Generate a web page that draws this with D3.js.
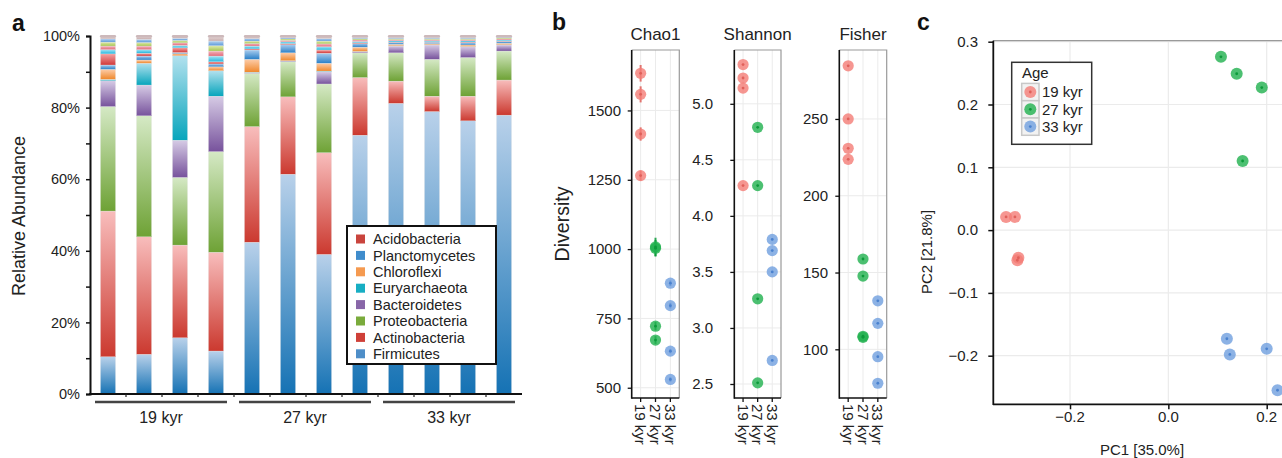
<!DOCTYPE html>
<html lang="en">
<head>
<meta charset="UTF-8">
<title>Microbial community by age</title>
<style>
  body { margin: 0; background: #fff; }
  svg { display: block; font-family: 'Liberation Sans', Arial, sans-serif; }
</style>
</head>
<body>
<svg id="chart" width="1282" height="458"></svg>
<script src="https://d3js.org/d3.v7.min.js"></script>
<script>
// ---------- data: panel a (relative abundance, % per sample) ----------
const samples = ["S1","S2","S3","S4","S5","S6","S7","S8","S9","S10","S11","S12"];
const sampleAge = ["19 kyr","19 kyr","19 kyr","19 kyr","27 kyr","27 kyr","27 kyr","27 kyr","33 kyr","33 kyr","33 kyr","33 kyr"];
const ageGroups = ["19 kyr","27 kyr","33 kyr"];

const firmicutes      = [10.4, 11.1, 15.7, 12.0, 42.4, 61.4, 39.0, 72.3, 81.2, 78.9, 76.3, 77.9];
const actinobacteria  = [40.7, 32.8, 25.9, 27.6, 32.3, 21.6, 28.4, 16.1,  6.2,  4.3,  6.9,  9.8];
const proteobacteria  = [29.2, 33.8, 18.9, 28.1, 14.9,  9.8, 19.2,  6.9,  7.9, 10.3, 10.8,  8.1];
const bacteroidetes   = [ 7.2,  8.6, 10.4, 15.5,  0.2,  0.2,  3.4,  0.3,  1.9,  4.0,  3.0,  1.7];
const euryarchaeota   = [ 0.4,  6.1, 23.6,  7.1,  0.1,  0.1,  0.2,  0.1,  0.1,  0.1,  0.1,  0.1];
const chloroflexi     = [ 2.8,  0.9,  0.6,  1.1,  3.6,  2.2,  2.2,  1.2,  0.4,  0.3,  0.4,  0.4];
const planctomycetes  = [ 1.2,  1.1,  0.3,  0.8,  2.6,  2.3,  2.8,  1.0,  0.5,  0.4,  0.6,  0.5];
const acidobacteria   = [ 3.1,  0.8,  1.3,  0.6,  0.3,  0.3,  0.9,  0.2,  0.1,  0.1,  0.2,  0.1];
// minor phyla (not in legend)
const verrucomicrobia = [ 1.2,  1.0,  0.7,  1.6,  0.8,  0.5,  0.9,  0.4,  0.4,  0.3,  0.4,  0.3];
const gemmatimonadetes= [ 1.0,  1.0,  0.7,  1.4,  0.7,  0.4,  0.8,  0.4,  0.3,  0.3,  0.3,  0.3];
const nitrospirae     = [ 1.1,  1.0,  0.7,  1.5,  0.7,  0.4,  0.8,  0.4,  0.3,  0.3,  0.3,  0.3];
const cyanobacteria   = [ 0.9,  0.9,  0.6,  1.3,  0.7,  0.4,  0.7,  0.3,  0.3,  0.3,  0.3,  0.2];
const otherPhyla      = [ 0.8,  0.9,  0.6,  1.4,  0.7,  0.4,  0.7,  0.4,  0.4,  0.4,  0.4,  0.3];

const phylaNames = ["Firmicutes","Actinobacteria","Proteobacteria","Bacteroidetes","Euryarchaeota",
  "Chloroflexi","Planctomycetes","Acidobacteria","Verrucomicrobia","Gemmatimonadetes","Nitrospirae",
  "Cyanobacteria","Other"];
const phylaValues = [firmicutes, actinobacteria, proteobacteria, bacteroidetes, euryarchaeota,
  chloroflexi, planctomycetes, acidobacteria, verrucomicrobia, gemmatimonadetes, nitrospirae,
  cyanobacteria, otherPhyla];
const legendNames = ["Acidobacteria","Planctomycetes","Chloroflexi","Euryarchaeota",
  "Bacteroidetes","Proteobacteria","Actinobacteria","Firmicutes"];
const pctTicks = [0, 20, 40, 60, 80, 100];

// ---------- data: panel b (alpha diversity) ----------
const divAge   = sampleAge;
const chao1    = [1634, 1558, 1415, 1265, 1008, 1003, 722, 672, 877, 796, 632, 530];
const chao1Se  = [  30,   29,   24,   18,   33,   30,  15,  14,  10,  10,   8,   8];
const shannon  = [5.35, 5.23, 5.14, 4.27, 4.79, 4.27, 3.26, 2.51, 3.79, 3.69, 3.50, 2.71];
const fisher   = [284.6, 250.0, 230.9, 223.7, 158.8, 147.7, 108.5, 107.8, 131.6, 116.9, 95.2, 77.9];
const chao1Ticks   = [500, 750, 1000, 1250, 1500];
const shannonTicks = [2.5, 3.0, 3.5, 4.0, 4.5, 5.0];
const fisherTicks  = [100, 150, 200, 250];

// ---------- data: panel c (PCoA) ----------
const pc1 = [-0.330, -0.312, -0.305, -0.307, 0.107, 0.139, 0.190, 0.151, 0.119, 0.125, 0.200, 0.222];
const pc2 = [ 0.021,  0.021, -0.044, -0.048, 0.276, 0.249, 0.227, 0.110, -0.173, -0.198, -0.189, -0.255];
const pc1Ticks = [-0.2, 0.0, 0.2];
const pc2Ticks = [-0.2, -0.1, 0.0, 0.1, 0.2, 0.3];

// ---------- styles ----------
const gradStops = {
  Firmicutes: ["#b9d1ea", "#1572b4"],
  Actinobacteria: ["#f8bdbc", "#cb392f"],
  Proteobacteria: ["#d5e9c5", "#6ea235"],
  Bacteroidetes: ["#d6cbe5", "#77529c"],
  Euryarchaeota: ["#b2e1ee", "#07a5bc"],
  Chloroflexi: ["#fdcdaa", "#ef882c"],
  Planctomycetes: ["#aacdee", "#2a80c8"],
  Acidobacteria: ["#f5a3a2", "#d0393a"],
  Verrucomicrobia: ["#a6e4f4", "#22b6de"],
  Gemmatimonadetes: ["#f5b4bb", "#e06a7a"],
  Nitrospirae: ["#dfeaaf", "#a7c64f"],
  Cyanobacteria: ["#b6d3f1", "#5a98d8"],
  Other: ["#eadcdc", "#c7adad"]
};
const legendColor = {
  Acidobacteria: "#c9443d", Planctomycetes: "#3f8ccc", Chloroflexi: "#f59a50",
  Euryarchaeota: "#17aec3", Bacteroidetes: "#8866a8", Proteobacteria: "#7aab3c",
  Actinobacteria: "#cf4038", Firmicutes: "#4e8ec8"
};
const ageFill = { "19 kyr": "#f47c75", "27 kyr": "#1fb04e", "33 kyr": "#6f9fde" };
const ageDot  = { "19 kyr": "#e0605a", "27 kyr": "#0c9a3a", "33 kyr": "#4a82cf" };

const svg = d3.select("#chart");
const defs = svg.append("defs");
phylaNames.forEach((n, i) => {
  const g = defs.append("linearGradient").attr("id", "grad" + i)
    .attr("x1", 0).attr("y1", 0).attr("x2", 0).attr("y2", 1);
  g.append("stop").attr("offset", "0%").attr("stop-color", gradStops[n][0]);
  g.append("stop").attr("offset", "100%").attr("stop-color", gradStops[n][1]);
});

function panelLetter(txt, x, y) {
  svg.append("text").attr("x", x).attr("y", y).attr("font-size", 23)
    .attr("font-weight", "bold").attr("fill", "#111").text(txt);
}

// ================= Panel a =================
const x = d3.scaleBand().domain(samples).range([90, 522]).paddingInner(0.58).paddingOuter(0.29);
const y = d3.scaleLinear().domain([0, 100]).range([394, 36]);

const table = samples.map((s, i) => {
  const row = { sample: s };
  phylaNames.forEach((n, k) => row[n] = phylaValues[k][i]);
  return row;
});
const series = d3.stack().keys(phylaNames)(table);

const gA = svg.append("g");
gA.selectAll("g.layer").data(series).join("g").attr("class", "layer")
  .attr("fill", (d, i) => `url(#grad${i})`)
  .selectAll("rect").data(d => d).join("rect")
  .attr("x", d => x(d.data.sample))
  .attr("y", d => y(Math.min(100, d[1])))
  .attr("width", x.bandwidth())
  .attr("height", d => Math.max(0, y(d[0]) - y(Math.min(100, d[1]))))
  .attr("stroke", "#e6e6e6").attr("stroke-width", 0.3);

// grey cap on top of each bar
gA.selectAll("rect.cap").data(samples).join("rect").attr("class", "cap")
  .attr("x", d => x(d) - 0.5).attr("y", y(100) - 1).attr("width", x.bandwidth() + 1)
  .attr("height", 2.5).attr("rx", 1.2).attr("fill", "#cdb9bb");

// y axis
const yAxisA = d3.axisLeft(y).tickValues(d3.range(0, 101, 10)).tickSize(4).tickFormat("");
gA.append("g").attr("transform", "translate(90,0)").call(yAxisA)
  .call(g => g.select(".domain").attr("stroke-width", 2).attr("stroke", "#111"))
  .call(g => g.selectAll(".tick line").attr("stroke-width", 1.5).attr("stroke", "#111"));
gA.selectAll("text.ytick").data(pctTicks).join("text").attr("class", "ytick")
  .attr("x", 80).attr("y", d => y(d)).attr("dy", "0.36em").attr("text-anchor", "end")
  .attr("font-size", 14.5).attr("fill", "#222").text(d => d + "%");
gA.append("text").attr("transform", "translate(25,216) rotate(-90)")
  .attr("text-anchor", "middle").attr("font-size", 18).attr("fill", "#222").text("Relative Abundance");

// x axis line with small ticks at band boundaries
gA.append("line").attr("x1", 89).attr("x2", 522).attr("y1", 394).attr("y2", 394)
  .attr("stroke", "#111").attr("stroke-width", 2.2);
const step = x.step();
gA.selectAll("line.bnd").data(samples.slice(1)).join("line").attr("class", "bnd")
  .attr("x1", d => x(d) - step * 0.29).attr("x2", d => x(d) - step * 0.29)
  .attr("y1", 394).attr("y2", 397).attr("stroke", "#222").attr("stroke-width", 1.2);

// age group brackets
ageGroups.forEach(a => {
  const members = samples.filter((s, i) => sampleAge[i] === a);
  const x0 = x(members[0]) - step * 0.29;
  const x1 = x(members[members.length - 1]) + x.bandwidth() + step * 0.29;
  gA.append("line").attr("x1", x0 + 5).attr("x2", x1 - 7).attr("y1", 402).attr("y2", 402)
    .attr("stroke", "#444").attr("stroke-width", 2.5);
  gA.append("text").attr("x", (x0 + x1) / 2 - 1).attr("y", 423).attr("text-anchor", "middle")
    .attr("font-size", 16).attr("fill", "#222").text(a);
});

// legend
const lg = gA.append("g");
lg.append("rect").attr("x", 347).attr("y", 226).attr("width", 149).attr("height", 138)
  .attr("fill", "#fff").attr("stroke", "#111").attr("stroke-width", 2);
legendNames.forEach((n, i) => {
  const yy = 239 + i * 16.4;
  lg.append("rect").attr("x", 356).attr("y", yy - 4.5).attr("width", 9).attr("height", 9)
    .attr("fill", legendColor[n]);
  lg.append("text").attr("x", 373).attr("y", yy).attr("dy", "0.36em")
    .attr("font-size", 14.5).attr("fill", "#222").text(n);
});
panelLetter("a", 12, 31);

// ================= Panel b =================
const catX = ageGroups;
function facet(cfg) {
  const g = svg.append("g");
  const xs = d3.scalePoint().domain(catX).range([cfg.left, cfg.right]).padding(0.6);
  const ys = d3.scaleLinear().domain(cfg.domain).range([398, 50]);
  // grid
  g.selectAll("line.gh").data(cfg.ticks).join("line").attr("class", "gh")
    .attr("x1", cfg.left).attr("x2", cfg.right).attr("y1", d => ys(d)).attr("y2", d => ys(d))
    .attr("stroke", "#ebebeb").attr("stroke-width", 1);
  g.selectAll("line.gv").data(catX).join("line").attr("class", "gv")
    .attr("x1", d => xs(d)).attr("x2", d => xs(d)).attr("y1", 50).attr("y2", 398)
    .attr("stroke", "#ebebeb").attr("stroke-width", 1);
  // grey frame top/right
  g.append("path").attr("d", `M${cfg.left},50H${cfg.right}V398`).attr("fill", "none")
    .attr("stroke", "#9a9a9a").attr("stroke-width", 1.2);
  // axes
  g.append("g").attr("transform", `translate(${cfg.left},0)`)
    .call(d3.axisLeft(ys).tickValues(cfg.ticks).tickSize(4).tickFormat(""))
    .call(a => a.select(".domain").remove())
    .call(a => a.selectAll(".tick line").attr("stroke", "#111").attr("stroke-width", 1.3));
  g.append("line").attr("x1", cfg.left).attr("x2", cfg.left).attr("y1", 50).attr("y2", 398.8)
    .attr("stroke", "#111").attr("stroke-width", 1.6);
  g.append("line").attr("x1", cfg.left).attr("x2", cfg.right).attr("y1", 398).attr("y2", 398)
    .attr("stroke", "#111").attr("stroke-width", 1.6);
  g.selectAll("line.xt").data(catX).join("line").attr("class", "xt")
    .attr("x1", d => xs(d)).attr("x2", d => xs(d)).attr("y1", 398).attr("y2", 402)
    .attr("stroke", "#111").attr("stroke-width", 1.3);
  g.selectAll("text.yl").data(cfg.ticks).join("text").attr("class", "yl")
    .attr("x", cfg.labelEnd).attr("y", d => ys(d)).attr("dy", "0.36em").attr("text-anchor", "end")
    .attr("font-size", 15).attr("fill", "#222").text(cfg.fmt);
  g.selectAll("text.xl").data(catX).join("text").attr("class", "xl")
    .attr("transform", d => `translate(${xs(d)},404) rotate(90)`)
    .attr("dy", "0.36em").attr("font-size", 15).attr("fill", "#222").text(d => d);
  g.append("text").attr("x", (cfg.left + cfg.right) / 2).attr("y", 40).attr("text-anchor", "middle")
    .attr("font-size", 17).attr("fill", "#222").text(cfg.title);
  // error bars
  if (cfg.se) {
    g.selectAll("line.err").data(cfg.values).join("line").attr("class", "err")
      .attr("x1", (d, i) => xs(divAge[i])).attr("x2", (d, i) => xs(divAge[i]))
      .attr("y1", (d, i) => ys(d - cfg.se[i])).attr("y2", (d, i) => ys(d + cfg.se[i]))
      .attr("stroke", (d, i) => ageDot[divAge[i]]).attr("stroke-width", 2).attr("opacity", 0.85);
  }
  g.selectAll("circle.pt").data(cfg.values).join("circle").attr("class", "pt")
    .attr("cx", (d, i) => xs(divAge[i])).attr("cy", d => ys(d)).attr("r", 5.6)
    .attr("fill", (d, i) => ageFill[divAge[i]]).attr("opacity", 0.8);
  g.selectAll("circle.dot").data(cfg.values).join("circle").attr("class", "dot")
    .attr("cx", (d, i) => xs(divAge[i])).attr("cy", d => ys(d)).attr("r", 1.4)
    .attr("fill", (d, i) => ageDot[divAge[i]]);
}
facet({ title: "Chao1", left: 631.7, right: 679.3, domain: [463, 1718], ticks: chao1Ticks,
  values: chao1, se: chao1Se, labelEnd: 621, fmt: d => d });
facet({ title: "Shannon", left: 734.3, right: 781, domain: [2.375, 5.48], ticks: shannonTicks,
  values: shannon, labelEnd: 713, fmt: d => d.toFixed(1) });
facet({ title: "Fisher", left: 839.3, right: 886.7, domain: [68.3, 294.9], ticks: fisherTicks,
  values: fisher, labelEnd: 828, fmt: d => d });
svg.append("text").attr("transform", "translate(569,224) rotate(-90)").attr("text-anchor", "middle")
  .attr("font-size", 19.5).attr("fill", "#222").text("Diversity");
panelLetter("b", 552, 30);

// ================= Panel c =================
const xc = d3.scaleLinear().domain([-0.356, 0.26]).range([993.3, 1296.2]);
const yc = d3.scaleLinear().domain([-0.2774, 0.3016]).range([404.3, 40.7]);
const gC = svg.append("g");
gC.selectAll("line.gh").data(pc2Ticks).join("line").attr("class", "gh")
  .attr("x1", 993).attr("x2", 1296).attr("y1", d => yc(d)).attr("y2", d => yc(d))
  .attr("stroke", "#ebebeb").attr("stroke-width", 1.2);
gC.selectAll("line.gv").data(pc1Ticks).join("line").attr("class", "gv")
  .attr("x1", d => xc(d)).attr("x2", d => xc(d)).attr("y1", 40.7).attr("y2", 404.3)
  .attr("stroke", "#ebebeb").attr("stroke-width", 1.2);
gC.append("line").attr("x1", 993).attr("x2", 1296).attr("y1", 40.7).attr("y2", 40.7)
  .attr("stroke", "#9a9a9a").attr("stroke-width", 1.2);
gC.append("line").attr("x1", 993.3).attr("x2", 993.3).attr("y1", 40.7).attr("y2", 405)
  .attr("stroke", "#111").attr("stroke-width", 1.8);
gC.append("line").attr("x1", 993).attr("x2", 1296).attr("y1", 404.3).attr("y2", 404.3)
  .attr("stroke", "#111").attr("stroke-width", 1.8);
gC.append("g").attr("transform", "translate(993.3,0)")
  .call(d3.axisLeft(yc).tickValues(pc2Ticks).tickSize(5).tickFormat(""))
  .call(a => a.select(".domain").remove())
  .call(a => a.selectAll(".tick line").attr("stroke", "#111").attr("stroke-width", 1.5));
gC.append("g").attr("transform", "translate(0,404.3)")
  .call(d3.axisBottom(xc).tickValues(pc1Ticks).tickSize(5).tickFormat(""))
  .call(a => a.select(".domain").remove())
  .call(a => a.selectAll(".tick line").attr("stroke", "#111").attr("stroke-width", 1.5));
const fmtC = d => d3.format(".1f")(d).replace("-", "\u2212");
gC.selectAll("text.yl").data(pc2Ticks).join("text").attr("class", "yl")
  .attr("x", 978).attr("y", d => yc(d)).attr("dy", "0.36em").attr("text-anchor", "end")
  .attr("font-size", 15).attr("fill", "#222").text(fmtC);
gC.selectAll("text.xl").data(pc1Ticks).join("text").attr("class", "xl")
  .attr("x", d => xc(d)).attr("y", 422).attr("text-anchor", "middle")
  .attr("font-size", 15).attr("fill", "#222").text(fmtC);
gC.append("text").attr("x", 1142).attr("y", 455).attr("text-anchor", "middle")
  .attr("font-size", 15).attr("fill", "#222").text("PC1 [35.0%]");
gC.append("text").attr("transform", "translate(932,252) rotate(-90)").attr("text-anchor", "middle")
  .attr("font-size", 15).attr("fill", "#222").text("PC2 [21.8%]");
gC.selectAll("circle.pt").data(pc1).join("circle").attr("class", "pt")
  .attr("cx", d => xc(d)).attr("cy", (d, i) => yc(pc2[i])).attr("r", 6)
  .attr("fill", (d, i) => ageFill[sampleAge[i]]).attr("opacity", 0.8);
gC.selectAll("circle.dot").data(pc1).join("circle").attr("class", "dot")
  .attr("cx", d => xc(d)).attr("cy", (d, i) => yc(pc2[i])).attr("r", 1.4)
  .attr("fill", (d, i) => ageDot[sampleAge[i]]);

// legend c
const lc = gC.append("g");
lc.append("rect").attr("x", 1011.7).attr("y", 62.3).attr("width", 80).attr("height", 82)
  .attr("fill", "#fff").attr("stroke", "#333").attr("stroke-width", 1.5);
lc.append("text").attr("x", 1022).attr("y", 73).attr("dy", "0.36em").attr("font-size", 15)
  .attr("fill", "#222").text("Age");
ageGroups.forEach((a, i) => {
  const cy = 92 + i * 17.3;
  lc.append("rect").attr("x", 1021.7).attr("y", cy - 8.6).attr("width", 17.3).attr("height", 17.3)
    .attr("fill", "#f2f2f2").attr("stroke", "#c8c8c8").attr("stroke-width", 1.5);
  lc.append("circle").attr("cx", 1030.3).attr("cy", cy).attr("r", 6).attr("fill", ageFill[a]).attr("opacity", 0.8);
  lc.append("circle").attr("cx", 1030.3).attr("cy", cy).attr("r", 1.4).attr("fill", ageDot[a]);
  lc.append("text").attr("x", 1042).attr("y", cy).attr("dy", "0.36em").attr("font-size", 15)
    .attr("fill", "#222").text(a);
});
panelLetter("c", 917, 30);
</script>
</body>
</html>
